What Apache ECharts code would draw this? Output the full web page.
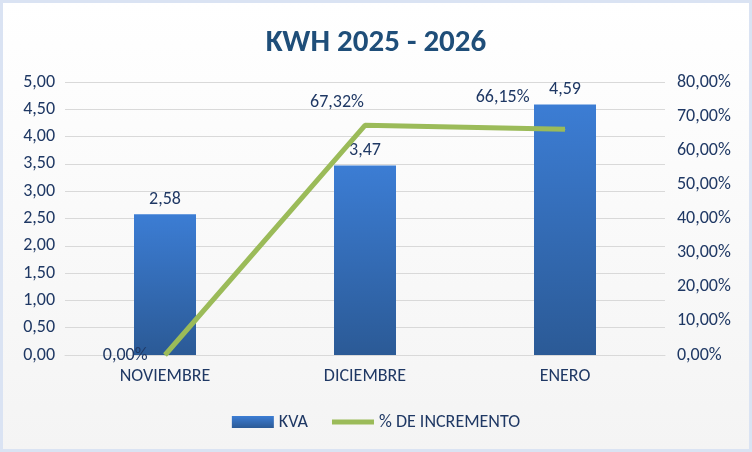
<!DOCTYPE html>
<html><head><meta charset="utf-8">
<script src="https://cdn.jsdelivr.net/npm/echarts@6/dist/echarts.min.js"></script>
<style>
html,body{margin:0;padding:0;background:#fff;}
#c{width:746px;height:446px;border:3px solid #dae3f3;background:linear-gradient(#ffffff,#f4f4f4);}
</style></head>
<body><div id="c"></div>
<script>
const categories = ['NOVIEMBRE','DICIEMBRE','ENERO'];
const kva = [2.58, 3.47, 4.59];
const incremento = [0.00, 67.32, 66.15];
const title = 'KWH 2025 - 2026';
const FONT = "Carlito, 'Liberation Sans Narrow', 'DejaVu Sans Condensed', sans-serif";
const fmt = (v, d) => v.toFixed(d).replace('.', ',');
const chart = echarts.init(document.getElementById('c'));
chart.setOption({
  textStyle:{fontFamily:FONT},
  title:{text:title,left:'center',top:20,textStyle:{fontFamily:FONT,fontSize:31,fontWeight:'bold',color:'#1f4e79'}},
  legend:{bottom:13,itemGap:24,itemWidth:42,itemHeight:12,textStyle:{fontFamily:FONT,fontSize:18,color:'#1f3864'},
    data:[{name:'KVA',icon:'rect'},{name:'% DE INCREMENTO',icon:'path://M0,0 L42,0 L42,5 L0,5 Z'}]},
  grid:{left:62,right:84,top:79,bottom:94},
  xAxis:{type:'category',data:categories,axisTick:{show:false},
    axisLine:{lineStyle:{color:'#d9d9d9'}},
    axisLabel:{fontFamily:FONT,fontSize:18,color:'#1f3864',margin:12}},
  yAxis:[
    {type:'value',min:0,max:5,interval:0.5,
      axisLabel:{fontFamily:FONT,fontSize:18,color:'#1f3864',margin:10,formatter:v=>fmt(v,2)},
      splitLine:{lineStyle:{color:'#d9d9d9'}}},
    {type:'value',min:0,max:80,interval:10,
      axisLabel:{fontFamily:FONT,fontSize:18,color:'#1f3864',margin:12,formatter:v=>fmt(v,2)+'%'},
      splitLine:{show:false}}
  ],
  series:[
    {name:'KVA',type:'bar',data:kva,barWidth:'31%',
      itemStyle:{color:new echarts.graphic.LinearGradient(0,0,0,1,[{offset:0,color:'#3c7dd4'},{offset:1,color:'#2b5a96'}])},
      label:{show:true,position:'top',distance:6,fontFamily:FONT,fontSize:18,color:'#1f3864',formatter:p=>fmt(p.value,2)}},
    {name:'% DE INCREMENTO',type:'line',yAxisIndex:1,data:incremento.map((v,i)=>({value:v,
        label:[{position:'left',offset:[-12,0]},{position:'top',offset:[-28,-8]},{position:'left',offset:[-30,-32]}][i]})),
      symbol:'circle',symbolSize:1,showSymbol:true,lineStyle:{color:'#9bbb59',width:5},itemStyle:{color:'#9bbb59'},
      label:{show:true,fontFamily:FONT,fontSize:18,color:'#1f3864',formatter:p=>fmt(p.value,2)+'%'}}
  ]
});
</script></body></html>
